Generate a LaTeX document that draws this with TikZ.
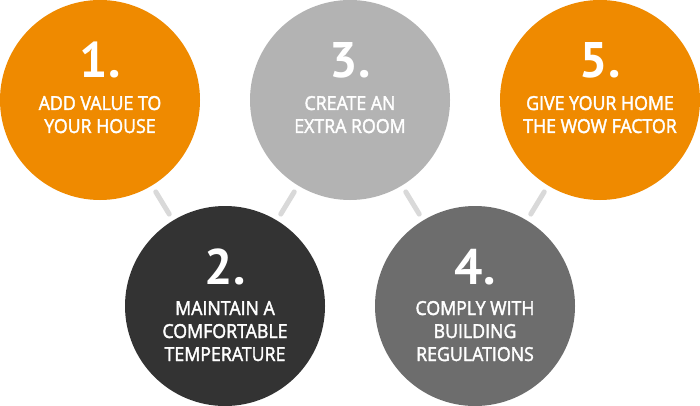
\documentclass[tikz,border=0pt]{standalone}
\usepackage{fontspec}
\setmainfont{PT Sans}
\newfontfamily\lblfont{Open Sans}[FakeBold=2, FakeStretch=0.92]
\definecolor{corange}{HTML}{EF8A00}
\definecolor{cdark}{HTML}{333333}
\definecolor{clight}{HTML}{B3B3B3}
\definecolor{cmid}{HTML}{6D6D6D}
\definecolor{cconn}{HTML}{D9D9D9}
\tikzset{
  disc/.style={circle, minimum size=200pt, inner sep=0pt, outer sep=0pt},
  conn/.style={draw=cconn, line width=5pt, line cap=round, shorten <=7.5pt, shorten >=7.5pt},
  num/.style={text=white, anchor=base, font=\fontsize{50}{50}\selectfont\bfseries, inner sep=0pt},
  lbl/.style={text=white, anchor=base, font=\lblfont\fontsize{19.3}{23}\selectfont, inner sep=0pt}
}
\begin{document}
\begin{tikzpicture}[x=1pt,y=-1pt]
\useasboundingbox[fill=white] (0,0) rectangle (700,406);
\node[disc, fill=corange] (c1) at (100,100) {};
\node[disc, fill=cdark] (c2) at (225,306) {};
\node[disc, fill=clight] (c3) at (350,100) {};
\node[disc, fill=cmid] (c4) at (475,306) {};
\node[disc, fill=corange] (c5) at (600,100) {};
\draw[conn] (c1) -- (c2);
\draw[conn] (c2) -- (c3);
\draw[conn] (c3) -- (c4);
\draw[conn] (c4) -- (c5);
% circle 1
\node[num] (n1) at (100,78) {1.};
\node[lbl] (t1a) at (100,110) {ADD VALUE TO};
\node[lbl] (t1b) at (100,133) {YOUR HOUSE};
% circle 3
\node[num] (n3) at (350,78) {3.};
\node[lbl] (t3a) at (350,110) {CREATE AN};
\node[lbl] (t3b) at (350,133) {EXTRA ROOM};
% circle 5
\node[num] (n5) at (600,78) {5.};
\node[lbl] (t5a) at (600,110) {GIVE YOUR HOME};
\node[lbl] (t5b) at (600,133) {THE WOW FACTOR};
% circle 2
\node[num] (n2) at (225,284) {2.};
\node[lbl] (t2a) at (225,315) {MAINTAIN A};
\node[lbl] (t2b) at (225,338) {COMFORTABLE};
\node[lbl] (t2c) at (225,361) {TEMPERATURE};
% circle 4
\node[num] (n4) at (475,284) {4.};
\node[lbl] (t4a) at (475,315) {COMPLY WITH};
\node[lbl] (t4b) at (475,338) {BUILDING};
\node[lbl] (t4c) at (475,361) {REGULATIONS};
\end{tikzpicture}
\end{document}
